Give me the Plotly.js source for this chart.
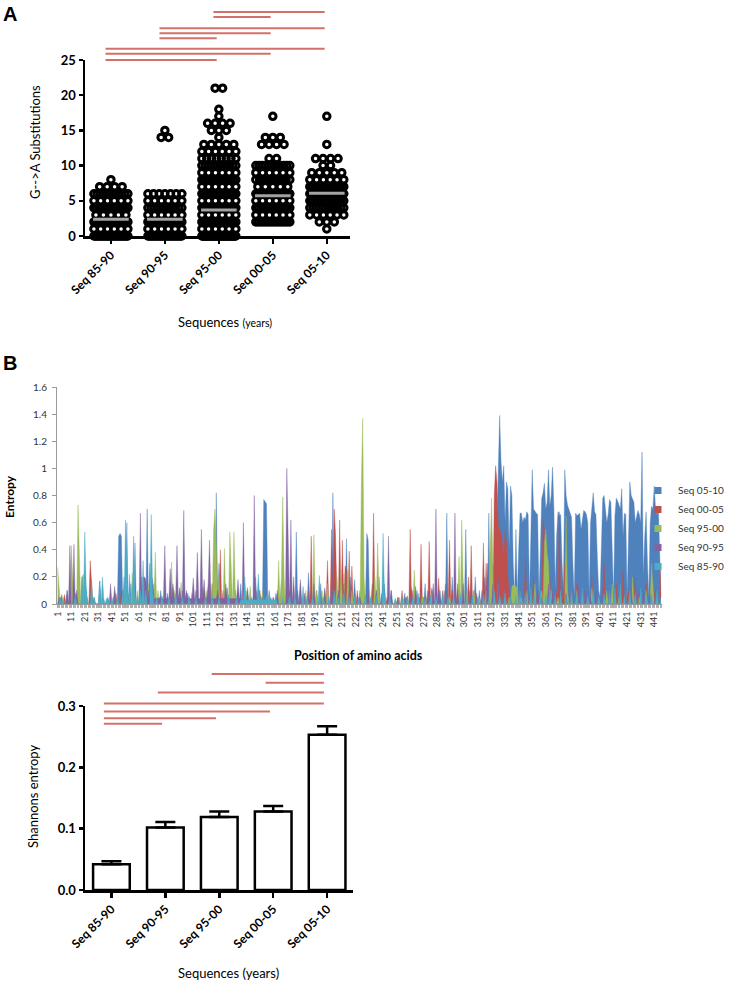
<!DOCTYPE html>
<html><head><meta charset="utf-8">
<script src="https://cdn.plot.ly/plotly-3.0.1.min.js"></script>
<style>html,body{margin:0;padding:0;background:#fff}#chart{width:729px;height:983px}</style>
</head><body><div id="chart"></div>
<script>
// ================= Panel A : G->A substitutions per sequence =================
const groups = ['Seq 85-90','Seq 90-95','Seq 95-00','Seq 00-05','Seq 05-10'];
const gaVals8590 = [0,1,2,3,4,5,6,7,8];
const gaCnt8590  = [30,6,16,5,14,6,12,4,1];
const gaVals9095 = [0,1,2,3,4,5,6,14,15];
const gaCnt9095  = [28,6,14,6,12,6,7,2,1];
const gaVals9500 = [0,1,2,3,4,5,6,7,8,9,10,11,12,13,14,15,16,17,18,21];
const gaCnt9500  = [40,6,20,6,20,6,16,6,14,6,12,8,6,5,1,3,4,1,1,2];
const gaVals0005 = [2,3,4,5,6,7,8,9,10,11,13,14,17];
const gaCnt0005  = [14,6,14,6,14,5,10,6,12,2,4,3,1];
const gaVals0510 = [1,2,3,4,5,6,7,8,9,10,11,13,17];
const gaCnt0510  = [1,3,6,12,14,14,14,6,5,2,4,1,1];
const gaMeans = [2.37,2.37,3.69,5.73,6.06];
// significance bars (group index from -> to, height in y units)
const sigAFrom  = [2,2,1,1,1,0,0,0];
const sigATo    = [4,3,4,3,2,4,3,2];
const sigALevel = [31.8,31.1,29.5,28.8,28.1,26.6,25.9,25.0];

// ================= Panel B : entropy per amino-acid position =================
const nPositions = 446;
const ent0510 = [[3,0.05],[8,0.1],[14,0.08],[19,0.2],[22,0.1],[32,0.17],[38,0.05],[43,0.1],[46,0.5],[47,0.52],[48,0.5],[50,0.2],[52,0.6],[55,0.15],[58,0.45],
 [63,0.2],[67,0.7],[69,0.3],[72,0.15],[77,0.1],[82,0.08],[86,0.12],[93,0.1],[97,0.08],[103,0.1],[108,0.12],
 [113,0.15],[118,0.82],[120,0.3],[126,0.12],[132,0.1],[136,0.15],[141,0.12],[147,0.2],[150,0.1],[153,0.77],[154,0.75],[155,0.74],[157,0.1],
 [162,0.08],[166,0.15],[171,0.2],[177,0.53],[180,0.15],[186,0.23],[190,0.12],[195,0.15],[198,0.1],[204,0.82],[206,0.3],[210,0.2],[214,0.48],[217,0.2],[220,0.18],[224,0.1],[229,0.52],[230,0.47],[233,0.15],
 [238,0.2],[242,0.15],[247,0.1],[252,0.05],[257,0.08],[262,0.12],[266,0.1],[272,0.15],[277,0.12],[283,0.1],[288,0.67],[292,0.2],[296,0.1],[302,0.55],[306,0.15],[309,0.2],[312,0.1],[316,0.2],[319,0.67],[322,0.3],
 [325,0.6],[326,1.0],[327,1.39],[328,1.05],[329,0.9],[330,1.02],[331,0.6],[332,0.9],[333,0.85],[334,0.4],[335,0.87],[336,0.8],[337,0.3],[338,0.05],
 [339,0.55],[340,0.05],[341,0.4],[342,0.67],[343,0.67],[344,0.6],[345,0.64],[346,0.62],[347,0.68],[348,0.66],[349,0.05],[350,0.5],[351,0.99],[352,0.7],[353,0.68],[354,0.67],[355,0.66],[356,0.05],
 [357,0.4],[358,0.78],[359,0.82],[360,0.89],[361,0.7],[362,0.75],[363,0.99],[364,0.72],[365,0.8],[366,1.01],[367,0.7],[368,0.1],[369,0.5],[370,0.68],[371,0.65],[372,0.66],[373,0.3],[374,0.1],
 [375,0.99],[376,0.8],[377,0.73],[378,0.7],[379,0.68],[380,0.64],[381,0.3],[382,0.05],[383,0.67],[384,0.65],[385,0.66],[386,0.67],[387,0.55],[388,0.62],[389,0.69],[390,0.68],[391,0.66],[392,0.6],[393,0.05],
 [394,0.6],[395,0.7],[396,0.82],[397,0.68],[398,0.66],[399,0.35],[400,0.1],[401,0.05],[402,0.55],[403,0.78],[404,0.8],[405,0.7],[406,0.6],[407,0.66],[408,0.77],[409,0.75],[410,0.3],[411,0.05],
 [412,0.65],[413,0.78],[414,0.76],[415,0.72],[416,0.7],[417,0.85],[418,0.5],[419,0.67],[420,0.66],[421,0.05],[422,0.6],[423,0.9],[424,0.8],[425,0.78],[426,0.75],[427,0.6],[428,0.66],[429,0.69],[430,0.66],
 [431,0.6],[432,1.12],[433,0.2],[434,0.5],[435,0.68],[436,0.3],[437,0.05],[438,0.6],[439,0.72],[440,0.7],[441,0.87],[442,0.7],[443,0.66],[444,0.72],[445,0.3],[446,0.05]];
const ent0005 = [[4,0.07],[6,0.07],[8,0.05],[12,0.08],[25,0.32],[26,0.1],[44,0.08],[48,0.1],[50,0.08],[54,0.05],[66,0.12],[76,0.05],[90,0.05],[104,0.05],[115,0.15],[118,0.35],[121,0.4],[123,0.1],[134,0.08],[150,0.1],[165,0.05],[172,0.1],
 [188,0.5],[192,0.1],[200,0.32],[203,0.55],[205,0.7],[206,0.5],[209,0.62],[211,0.47],[213,0.28],[214,0.25],[216,0.39],[218,0.28],[222,0.1],[228,0.05],[234,0.67],[236,0.1],[244,0.05],[252,0.05],[255,0.1],[258,0.05],
 [261,0.55],[263,0.1],[269,0.44],[271,0.05],[275,0.46],[277,0.1],[282,0.19],[285,0.1],[290,0.47],[292,0.1],[296,0.15],[299,0.1],[304,0.2],[306,0.43],[308,0.1],[312,0.05],[315,0.45],[317,0.3],
 [321,0.55],[323,0.8],[324,1.02],[325,0.9],[326,0.6],[327,0.5],[328,0.55],[329,0.45],[330,0.35],[331,0.55],[332,0.45],[333,0.2],[334,0.1],[340,0.1],[346,0.35],[349,0.05],[352,0.2],[355,0.1],[359,0.62],[360,0.55],
 [362,0.3],[364,0.2],[369,0.1],[371,0.68],[373,0.1],[375,0.3],[380,0.1],[384,0.15],[390,0.1],[395,0.2],[400,0.05],[404,0.3],[408,0.1],[413,0.15],[418,0.25],[422,0.1],[427,0.2],[430,0.1],[435,0.15],[441,0.1],[446,0.3]];
const ent9500 = [[1,0.27],[2,0.15],[5,0.05],[11,0.43],[12,0.2],[16,0.73],[17,0.4],[19,0.2],[20,0.22],[23,0.05],[28,0.05],[35,0.03],[42,0.05],[50,0.1],[56,0.23],[60,0.1],[65,0.12],[68,0.15],[73,0.38],[75,0.1],[80,0.1],
 [85,0.31],[87,0.1],[92,0.16],[96,0.05],[100,0.08],[108,0.1],[111,0.1],[114,0.15],[116,0.55],[117,0.7],[118,0.45],[120,0.2],[124,0.41],[126,0.1],[128,0.53],[129,0.2],[131,0.53],[132,0.1],[140,0.1],[143,0.13],
 [146,0.05],[152,0.1],[157,0.05],[160,0.05],[164,0.32],[166,0.2],[167,0.79],[168,0.2],[175,0.1],[180,0.05],[184,0.1],[190,0.51],[192,0.1],[196,0.1],[200,0.15],[207,0.2],[210,0.25],[212,0.22],[215,0.25],[218,0.1],
 [225,0.9],[226,1.37],[227,0.2],[231,0.1],[235,0.2],[237,0.45],[238,0.1],[242,0.05],[246,0.05],[250,0.04],[253,0.05],[256,0.04],[259,0.06],[264,0.25],[266,0.05],[270,0.06],[273,0.05],[277,0.08],[281,0.04],
 [286,0.1],[290,0.05],[294,0.08],[297,0.35],[299,0.62],[300,0.2],[303,0.1],[308,0.1],[312,0.05],[317,0.1],[320,0.4],[321,0.78],[322,0.2],[326,0.15],[330,0.1],[334,0.05],[336,0.13],[337,0.14],[338,0.14],[339,0.13],
 [340,0.12],[343,0.05],[347,0.1],[350,0.05],[353,0.15],[358,0.1],[360,0.45],[361,0.55],[362,0.37],[363,0.3],[365,0.1],[370,0.05],[376,0.65],[377,0.1],[380,0.05],[384,0.1],[390,0.05],[395,0.12],[400,0.05],
 [406,0.1],[410,0.15],[415,0.05],[420,0.1],[425,0.2],[430,0.05],[435,0.1],[439,0.3],[440,0.15],[445,0.05]];
const ent9095 = [[2,0.05],[8,0.1],[10,0.43],[13,0.44],[15,0.1],[22,0.05],[27,0.05],[40,0.15],[43,0.13],[49,0.1],[53,0.08],[58,0.12],[62,0.67],[64,0.2],[65,0.2],[66,0.18],[68,0.1],[71,0.19],
 [80,0.43],[84,0.26],[86,0.15],[89,0.43],[91,0.12],[94,0.69],[96,0.1],[101,0.19],[104,0.38],[107,0.55],[109,0.18],[112,0.15],[113,0.47],[119,0.1],[125,0.15],[134,0.18],[138,0.6],[141,0.1],[146,0.8],[148,0.1],
 [152,0.05],[160,0.05],[163,0.1],[170,1.0],[171,0.5],[173,0.62],[175,0.2],[178,0.1],[180,0.18],[183,0.08],[186,0.1],[190,0.15],[195,0.08],[198,0.12],[203,0.2],[208,0.1],[212,0.15],[216,0.1],[220,0.08],
 [224,0.05],[230,0.1],[236,0.1],[240,0.08],[245,0.5],[247,0.1],[252,0.03],[258,0.05],[262,0.1],[265,0.13],[268,0.05],[274,0.1],[278,0.15],[280,0.7],[282,0.1],[287,0.15],[294,0.67],[296,0.1],[300,0.15],
 [305,0.1],[310,0.08],[314,0.1],[318,0.3],[322,0.15],[326,0.2],[330,0.15],[335,0.05],[342,0.1],[346,0.15],[350,0.08],[355,0.1],[358,0.05],[363,0.15],[366,0.1],[372,0.12],[376,0.08],[380,0.1],[385,0.15],
 [390,0.1],[394,0.05],[398,0.1],[403,0.12],[408,0.08],[412,0.1],[416,0.15],[420,0.1],[424,0.12],[428,0.08],[433,0.1],[438,0.06],[442,0.12],[445,0.05],[446,0.04]];
const ent9095Floor = [[64,136,0.04]];
const ent8590 = [[3,0.05],[5,0.03],[14,0.06],[19,0.2],[21,0.53],[22,0.15],[26,0.18],[28,0.05],[32,0.17],[34,0.2],[35,0.04],[37,0.04],[38,0.04],[41,0.05],[45,0.05],[49,0.1],[51,0.62],[52,0.2],[54,0.22],
 [57,0.5],[58,0.1],[60,0.05],[62,0.1],[64,0.32],[66,0.1],[70,0.66],[71,0.1],[74,0.05],[78,0.06],[83,0.05],[88,0.08],[93,0.05],[98,0.06],[103,0.05],[110,0.05],[115,0.06],[120,0.05],[127,0.07],[133,0.05],
 [139,0.2],[144,0.05],[149,0.22],[151,0.05],[155,0.06],[158,0.05],[162,0.04],[167,0.05],[172,0.06],[176,0.05],[182,0.13],[185,0.05],[189,0.06],[194,0.21],[197,0.05],[201,0.06],[205,0.1],[208,0.05],
 [212,0.08],[216,0.05],[220,0.06],[223,0.05],[228,0.07],[232,0.05],[236,0.06],[241,0.52],[242,0.1],[246,0.05],[250,0.04],[255,0.05],[259,0.06],[263,0.05],[267,0.08],[271,0.05],[276,0.06],[280,0.05],
 [285,0.07],[289,0.05],[293,0.06],[298,0.08],[303,0.05],[307,0.06],[311,0.05],[315,0.07],[319,0.05],[323,0.1],[327,0.06],[331,0.08],[335,0.05],[339,0.06],[342,0.1],[346,0.08],[350,0.12],[353,0.06],
 [357,0.1],[361,0.08],[364,0.12],[368,0.06],[372,0.1],[376,0.05],[380,0.1],[384,0.08],[388,0.12],[392,0.06],[396,0.1],[400,0.05],[404,0.08],[408,0.1],[412,0.12],[416,0.15],[419,0.06],[423,0.1],
 [427,0.08],[431,0.12],[435,0.06],[439,0.08],[443,0.1],[446,0.05]];
const ent8590Floor = [[136,162,0.03]];
const seriesNames = ['Seq 05-10','Seq 00-05','Seq 95-00','Seq 90-95','Seq 85-90'];
const seriesColors = ['#4F81BD','#C0504D','#9BBB59','#8064A2','#4BACC6'];

// ================= Panel C : Shannon entropy (mean + SEM) =================
const shannonMean = [0.042,0.102,0.119,0.128,0.253];
const shannonSEM  = [0.005,0.009,0.009,0.009,0.014];
const sigCFrom  = [2,3,1,0,0,0,0];
const sigCTo    = [4,4,4,4,3,2,1];
const sigCLevel = [0.352,0.338,0.322,0.304,0.291,0.280,0.271];

// ---------------- build traces ----------------
const W = 729, H = 983;
const px = v => v / W, py = v => 1 - v / H;
const RED = '#d4706a';
const traces = [];

// Panel A swarm
const PX_PER_CAT_A = 54;
const gaVals = [gaVals8590, gaVals9095, gaVals9500, gaVals0005, gaVals0510];
const gaCnts = [gaCnt8590, gaCnt9095, gaCnt9500, gaCnt0005, gaCnt0510];
const ax = [], ay = [];
gaVals.forEach((vals, i) => {
  vals.forEach((v, k) => {
    const n = gaCnts[i][k];
    const step = n > 1 ? Math.min(7.5, 34 / (n - 1)) / PX_PER_CAT_A : 0;
    for (let j = 0; j < n; j++) { ax.push(i + (j - (n - 1) / 2) * step); ay.push(v); }
  });
});
traces.push({type:'scatter', mode:'markers', x:ax, y:ay, xaxis:'x', yaxis:'y', cliponaxis:false,
  marker:{symbol:'circle-open', size:6.5, color:'#000', line:{width:3, color:'#000'}},
  hoverinfo:'skip', showlegend:false});
const mx = [], my = [];
gaMeans.forEach((m, i) => { mx.push(i - 0.33, i + 0.33, null); my.push(m, m, null); });
traces.push({type:'scatter', mode:'lines', x:mx, y:my, xaxis:'x', yaxis:'y',
  line:{color:'#a3a3a3', width:3}, hoverinfo:'skip', showlegend:false});
const sax = [], say = [];
sigAFrom.forEach((f, k) => { sax.push(f - 0.1, sigATo[k] - 0.04, null); say.push(sigALevel[k], sigALevel[k], null); });
traces.push({type:'scatter', mode:'lines', x:sax, y:say, xaxis:'x', yaxis:'y4',
  line:{color:RED, width:2}, hoverinfo:'skip', showlegend:false});

// Panel B areas
const positions = [];
for (let p = 1; p <= nPositions; p++) positions.push(p);
function buildSeries(peaks, floors) {
  const y = positions.map(() => 0);
  (floors || []).forEach(([a, b, v]) => { for (let p = a; p <= b; p++) y[p - 1] = v; });
  peaks.forEach(([p, v]) => { y[p - 1] = Math.max(y[p - 1], v); });
  return y;
}
const entSeries = [buildSeries(ent0510), buildSeries(ent0005), buildSeries(ent9500),
                   buildSeries(ent9095, ent9095Floor), buildSeries(ent8590, ent8590Floor)];
entSeries.forEach((ys, s) => {
  traces.push({type:'scatter', mode:'lines', x:positions, y:ys, xaxis:'x2', yaxis:'y2',
    fill:'tozeroy', fillcolor:seriesColors[s], line:{color:seriesColors[s], width:0.4},
    name:seriesNames[s], hoverinfo:'skip', showlegend:false});
});
seriesNames.forEach((nm, s) => {
  traces.push({type:'scatter', mode:'markers', x:[null], y:[null], xaxis:'x2', yaxis:'y2',
    name:nm, marker:{symbol:'square', size:7, color:seriesColors[s]}, showlegend:true});
});

// Panel C bars
traces.push({type:'bar', x:[0,1,2,3,4], y:shannonMean, xaxis:'x3', yaxis:'y3', width:0.68,
  marker:{color:'#fff', line:{color:'#000', width:2.5}},
  error_y:{type:'data', symmetric:false, array:shannonSEM, arrayminus:shannonMean.map(() => 0),
           color:'#000', thickness:2.5, width:10},
  hoverinfo:'skip', showlegend:false});
const scx = [], scy = [];
sigCFrom.forEach((f, k) => { scx.push(f - 0.14, sigCTo[k] - 0.06, null); scy.push(sigCLevel[k], sigCLevel[k], null); });
traces.push({type:'scatter', mode:'lines', x:scx, y:scy, xaxis:'x3', yaxis:'y5',
  line:{color:RED, width:2}, hoverinfo:'skip', showlegend:false});

// ---------------- layout ----------------
const tickBold = {family:'Lato, sans-serif', size:13, weight:'bold', color:'#000'};
const catBold = {family:'Lato, sans-serif', size:12, weight:'bold', color:'#000'};
const prismX = (dom, rng, anchor) => ({domain:dom, range:rng, anchor:anchor, tickmode:'array',
  tickvals:[0,1,2,3,4], ticktext:groups, tickangle:-45, ticks:'outside', ticklen:5, tickwidth:2.5,
  tickcolor:'#000', showline:true, linewidth:2.5, linecolor:'#000', showgrid:false, zeroline:false,
  tickfont:catBold, fixedrange:true});
const prismY = (dom, rng, anchor, vals, fmt) => ({domain:dom, range:rng, anchor:anchor, tickmode:'array',
  tickvals:vals, tickformat:fmt, ticks:'outside', ticklen:4, tickwidth:2.5, tickcolor:'#000',
  showline:true, linewidth:2.5, linecolor:'#000', showgrid:false, zeroline:false, tickfont:tickBold,
  ticklabelstandoff:0, fixedrange:true});

const titleFont = {family:'Lato, sans-serif', size:13, color:'#000'};
const ann = (text, x, y, font, angle) => ({text:text, x:px(x), y:py(y), xref:'paper', yref:'paper',
  xanchor:'center', yanchor:'middle', showarrow:false, textangle:angle || 0, font:font});
const layout = {
  width:W, height:H, margin:{l:0, r:0, t:0, b:0, pad:0, autoexpand:false},
  paper_bgcolor:'#fff', plot_bgcolor:'rgba(0,0,0,0)',
  showlegend:true,
  legend:{x:1, y:py(476), xanchor:'right', yanchor:'top', bgcolor:'rgba(0,0,0,0)', borderwidth:0,
          font:{family:'Lato, sans-serif', size:10, color:'#333'}, itemclick:false, itemdoubleclick:false},
  xaxis: prismX([px(85), px(350)], [-0.48, 4.43], 'y'),
  yaxis: prismY([py(236), py(60)], [0, 25], 'x', [0,5,10,15,20,25], 'd'),
  yaxis4:{domain:[py(236), py(5)], range:[0, 32.81], anchor:'x', visible:false, fixedrange:true},
  xaxis2:{domain:[px(57), px(661.7)], range:[0.5, 446.5], anchor:'y2', tickmode:'linear', tick0:1, dtick:10,
          tickangle:-90, ticks:'outside', ticklen:3, tickcolor:'#aaa', showline:true, linecolor:'#9a9a9a',
          linewidth:1, showgrid:false, zeroline:false, tickfont:{family:'Lato, sans-serif', size:9, color:'#333'},
          minor:{ticks:'outside', ticklen:3, dtick:1, tick0:0.5, tickcolor:'#b0b0b0', showgrid:false}, fixedrange:true},
  yaxis2:{domain:[py(604), py(387)], range:[0, 1.6], anchor:'x2', tickmode:'linear', tick0:0, dtick:0.2,
          ticks:'outside', ticklen:4, tickcolor:'#9a9a9a', showline:true, linecolor:'#9a9a9a', linewidth:1,
          showgrid:false, zeroline:false, ticklabelstandoff:3,
          tickfont:{family:'Lato, sans-serif', size:10, color:'#333'}, fixedrange:true},
  xaxis3: prismX([px(85), px(353)], [-0.49, 4.48], 'y3'),
  yaxis3: prismY([py(890), py(706)], [0, 0.3], 'x3', [0,0.1,0.2,0.3], '.1f'),
  yaxis5:{domain:[py(890), py(660)], range:[0, 0.375], anchor:'x3', visible:false, fixedrange:true},
  annotations:[
    ann('<b>A</b>', 10, 14, {family:'Liberation Sans, Arial, sans-serif', size:20, color:'#000'}),
    ann('<b>B</b>', 10, 363, {family:'Liberation Sans, Arial, sans-serif', size:20, color:'#000'}),
    ann('G-->A Substitutions', 35, 142, titleFont, -90),
    ann("Sequences <span style='font-size:10.5px'>(years)</span>", 225, 322, titleFont),
    ann('<b>Entropy</b>', 9, 497, {family:'Lato, sans-serif', size:12, color:'#000'}, -90),
    ann('<b>Position of amino acids</b>', 358, 655, {family:'Lato, sans-serif', size:12.5, color:'#000'}),
    ann('Shannons entropy', 33, 797, titleFont, -90),
    ann('Sequences (years)', 228, 973, titleFont)
  ]
};
Plotly.newPlot('chart', traces, layout, {displayModeBar:false, staticPlot:true});
</script>
</body></html>
